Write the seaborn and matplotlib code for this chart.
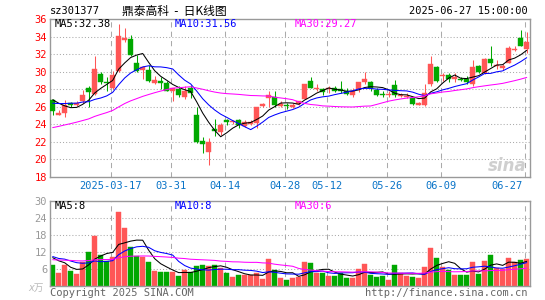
import numpy as np
import pandas as pd
import matplotlib
matplotlib.use("Agg")
import matplotlib.pyplot as plt
import seaborn as sns

sns.set_style("white")
plt.rcParams['font.family'] = ['DejaVu Sans Mono', 'Noto Sans CJK SC']

# daily candles 2025-03-03 .. 2025-06-27 (80 trading days)
opens = [26.72, 25.09, 25.30, 26.40, 26.20, 26.60, 28.10, 27.45, 29.75, 28.80,
         28.20, 30.10, 33.60, 33.80, 31.00, 30.20, 30.20, 28.70, 29.00, 28.70,
         27.75, 28.05, 27.15, 28.10, 25.00, 22.05, 20.80, 23.45, 23.15, 24.45,
         24.20, 24.45, 23.80, 24.05, 24.10, 26.05, 27.00, 27.10, 26.05, 26.20,
         26.00, 26.35, 26.90, 29.00, 28.05, 28.00, 28.00, 28.20, 28.05, 27.85,
         27.30, 28.00, 28.80, 28.85, 27.95, 27.45, 27.40, 28.50, 27.20, 27.10,
         27.00, 26.15, 26.15, 28.60, 30.50, 29.50, 29.60, 29.20, 29.20, 29.15,
         28.60, 30.70, 29.85, 31.50, 30.70, 30.40, 31.05, 32.45, 33.90, 32.55]
highs = [26.91, 25.58, 26.80, 26.50, 26.60, 27.95, 28.35, 31.80, 30.00, 29.45,
         30.10, 35.50, 35.00, 34.15, 31.90, 30.70, 30.75, 29.55, 29.35, 29.00,
         28.20, 28.40, 28.40, 28.50, 25.95, 22.55, 22.40, 24.55, 24.10, 24.65,
         24.50, 24.55, 24.45, 24.50, 26.00, 26.45, 27.75, 27.85, 26.60, 26.45,
         26.45, 26.70, 28.60, 29.45, 28.60, 28.20, 28.40, 28.40, 29.00, 28.20,
         28.10, 28.80, 30.00, 29.00, 28.20, 27.85, 27.75, 29.10, 27.60, 27.60,
         27.10, 26.50, 28.55, 31.80, 30.70, 29.90, 29.85, 29.85, 29.40, 29.50,
         31.35, 30.75, 31.60, 32.95, 31.35, 30.85, 32.95, 33.00, 34.80, 34.50]
lows = [25.09, 25.00, 24.85, 26.00, 26.10, 26.45, 25.95, 27.30, 28.60, 27.75,
        28.00, 30.00, 33.40, 31.75, 30.00, 29.20, 28.80, 28.60, 28.05, 27.75,
        26.70, 27.10, 26.90, 27.00, 21.80, 20.70, 19.35, 22.60, 22.75, 23.90,
        24.00, 23.60, 23.70, 23.95, 23.60, 25.95, 25.95, 25.95, 25.95, 25.75,
        25.90, 26.20, 26.90, 28.10, 27.85, 27.30, 27.60, 27.65, 27.60, 27.30,
        27.10, 27.65, 28.60, 27.85, 27.20, 27.10, 27.10, 27.10, 27.10, 27.00,
        26.15, 26.15, 26.10, 28.40, 28.80, 29.00, 28.80, 28.80, 28.90, 28.60,
        28.40, 29.85, 29.75, 30.70, 30.30, 30.20, 31.00, 32.40, 32.95, 32.20]
closes = [25.55, 25.28, 26.20, 26.15, 26.45, 27.30, 27.65, 30.30, 28.80, 28.70,
          29.60, 34.10, 33.85, 31.90, 30.10, 30.50, 29.00, 29.10, 28.70, 27.85,
          28.10, 27.30, 27.80, 27.60, 22.00, 21.70, 22.00, 23.25, 23.90, 24.25,
          24.35, 23.90, 24.20, 24.30, 25.95, 26.35, 27.30, 26.15, 26.35, 26.10,
          26.20, 26.60, 28.60, 28.20, 28.20, 27.65, 28.10, 27.85, 27.75, 27.50,
          27.75, 28.80, 29.20, 28.20, 27.35, 27.40, 27.50, 27.30, 27.35, 27.25,
          26.35, 26.40, 27.60, 30.90, 29.00, 29.65, 29.20, 29.40, 29.05, 28.80,
          30.50, 30.00, 31.50, 31.05, 30.80, 30.70, 32.70, 32.55, 32.95, 33.35]
# volume, 10k shares
vols = [7.5, 4.7, 7.4, 5.4, 4.3, 8.3, 11.9, 17.5, 10.9, 8.7,
        10.3, 26.0, 20.3, 13.9, 10.5, 10.1, 8.3, 5.4, 5.0, 4.8,
        4.8, 3.6, 5.75, 4.8, 7.2, 7.5, 7.2, 7.5, 6.2, 4.6,
        3.2, 3.8, 3.8, 4.0, 4.6, 2.6, 9.7, 5.8, 3.0, 2.2,
        2.7, 3.3, 8.6, 8.2, 4.6, 4.6, 3.6, 3.6, 4.6, 2.9,
        2.9, 6.0, 7.9, 4.0, 3.3, 3.6, 2.2, 7.5, 4.6, 3.6,
        3.3, 2.7, 6.8, 13.5, 10.0, 6.8, 5.75, 4.0, 4.0, 4.0,
        8.6, 4.3, 8.9, 11.0, 6.2, 6.0, 10.0, 8.6, 9.3, 9.6]

# history before the window (estimated from where the MA lines start)
pre_close = [21.0, 21.3, 21.6, 21.4, 21.8, 22.0, 21.7, 22.1, 22.4, 22.2,
             22.0, 22.3, 22.6, 22.5, 22.8, 22.6, 22.9, 23.1, 22.8, 23.3,
             25.6, 26.2, 25.8, 26.4, 26.0, 27.25, 27.7, 27.2, 26.3]
pre_vol = [8.0, 9.5, 7.8, 8.6, 9.2, 8.1, 10.0, 8.4, 7.6, 9.0,
           8.8, 9.4, 8.2, 9.6, 8.5, 8.9, 9.3, 7.9, 8.7, 9.1,
           11.5, 9.8, 12.0, 10.2, 10.5, 10.2, 10.9, 13.4, 8.0]

tick_idx = [10, 20, 29, 39, 46, 56, 65, 79]
tick_labels = ['2025-03-17', '03-31', '04-14', '04-28', '05-12', '05-26', '06-09', '06-27']

RED = '#ff5656'
GREEN = '#00a800'
GRID = '#aaaaaa'
n = len(closes)
idx = np.arange(n)

df = pd.DataFrame({'o': opens, 'h': highs, 'l': lows, 'c': closes, 'v': vols})
cs = pd.Series(pre_close + closes)
vs = pd.Series(pre_vol + vols)
for w in (5, 10, 30):
    df['ma%d' % w] = cs.rolling(w).mean().values[-n:]
    df['vma%d' % w] = vs.rolling(w).mean().values[-n:]
df['col'] = np.where(df.c >= df.o, RED, GREEN)

fig = plt.figure(figsize=(5.45, 3.0), dpi=100)
W, H = 545.0, 300.0
ax1 = fig.add_axes([50 / W, 1 - 176.7 / H, 479.5 / W, 157.4 / H])
ax2 = fig.add_axes([50 / W, 1 - 286 / H, 479.5 / W, 85 / H])

for ax in (ax1, ax2):
    ax.set_xlim(-0.45, 79.47)
    for s in ax.spines.values():
        s.set_color('#999999')
        s.set_linewidth(1)
    ax.tick_params(length=0)
    ax.set_xticks([])
    for t in tick_idx:
        ax.axvline(t - 0.35, color=GRID, lw=0.75, ls=(0, (5, 4)), zorder=0)

# price panel
ax1.set_ylim(18, 36)
for y in range(20, 36, 2):
    ax1.axhline(y, color=GRID, lw=0.75, ls=(0, (1, 2)), zorder=0)
ax1.vlines(idx, df.l, df.h, colors=df.col, lw=0.75, zorder=2)
body = np.maximum((df.c - df.o).abs(), 0.1)
ax1.bar(idx, body, bottom=np.minimum(df.o, df.c), width=0.74, color=df.col,
        edgecolor=df.col, linewidth=0.3, zorder=3)
sns.lineplot(x=idx, y=df.ma5, ax=ax1, color='black', lw=0.75, zorder=4)
sns.lineplot(x=idx, y=df.ma10, ax=ax1, color='#0000ff', lw=0.75, zorder=4)
sns.lineplot(x=idx, y=df.ma30, ax=ax1, color='#ff00ff', lw=0.75, zorder=4)
ax1.set_yticks(range(18, 37, 2))
ax1.set_yticklabels([str(v) for v in range(18, 37, 2)], color='#ff0000', fontsize=7.5)
ax1.tick_params(axis='y', pad=2)
ax1.set_xlabel('')
ax1.set_ylabel('')

# volume panel
ax2.set_ylim(0, 30)
for y in (6, 12, 18, 24):
    ax2.axhline(y, color=GRID, lw=0.75, ls=(0, (1, 2)), zorder=0)
ax2.bar(idx, df.v, width=0.8, color=df.col, edgecolor=df.col, linewidth=0.3, zorder=2)
sns.lineplot(x=idx, y=df.vma5, ax=ax2, color='black', lw=0.75, zorder=4)
sns.lineplot(x=idx, y=df.vma10, ax=ax2, color='#0000ff', lw=0.75, zorder=4)
sns.lineplot(x=idx, y=df.vma30, ax=ax2, color='#ff00ff', lw=0.75, zorder=4)
ax2.set_yticks([6, 12, 18, 24, 30])
ax2.set_yticklabels(['6', '12', '18', '24', '30'], color='#999999', fontsize=7.5)
ax2.tick_params(axis='y', pad=2)
ax2.set_xlabel('')
ax2.set_ylabel('')

# date labels between the panels
for t, lab in zip(tick_idx, tick_labels):
    xf = (52.7 + 6 * (t - 0.35)) / W
    ha = 'right' if t == tick_idx[-1] else 'center'
    fig.text(xf - (2 / W if ha == 'right' else 0), 1 - 186 / H, lab, color='#0a74c8',
             fontsize=7.5, ha=ha, va='center')

def ftext(x, y, s, **kw):
    fig.text(x / W, 1 - y / H, s, va='center', **kw)

ftext(50, 11, 'sz301377', fontsize=7.5, color='black')
ftext(122, 11, '鼎泰高科  -  日K线图', fontsize=8.5, color='black',
      family=['Noto Sans CJK SC', 'DejaVu Sans'])
ftext(528, 11.5, '2025-06-27 15:00:00', fontsize=7.5, color='black', ha='right')

ftext(55, 24, 'MA5:32.38', fontsize=7.5, color='black')
ftext(175, 24, 'MA10:31.56', fontsize=7.5, color='#0000ff')
ftext(295, 24, 'MA30:29.27', fontsize=7.5, color='#ff00ff')
ftext(55, 206, 'MA5:8', fontsize=7.5, color='black')
ftext(175, 206, 'MA10:8', fontsize=7.5, color='#0000ff')
ftext(295, 206, 'MA30:6', fontsize=7.5, color='#ff00ff')

ftext(44, 288, 'x万', fontsize=7, color='#bbbbbb', ha='right', style='italic',
      family=['DejaVu Sans', 'Noto Sans CJK SC'])
ftext(50, 293, 'Copyright 2025 SINA.COM', fontsize=7.5, color='#666666')
ftext(528, 293, 'http://finance.sina.com.cn', fontsize=7.5, color='#666666', ha='right')
ftext(527, 166, 'sina', fontsize=12, color='#cfcfcf', ha='right', style='italic',
      weight='bold', family=['DejaVu Sans'])

fig.savefig('out.png', dpi=100)
